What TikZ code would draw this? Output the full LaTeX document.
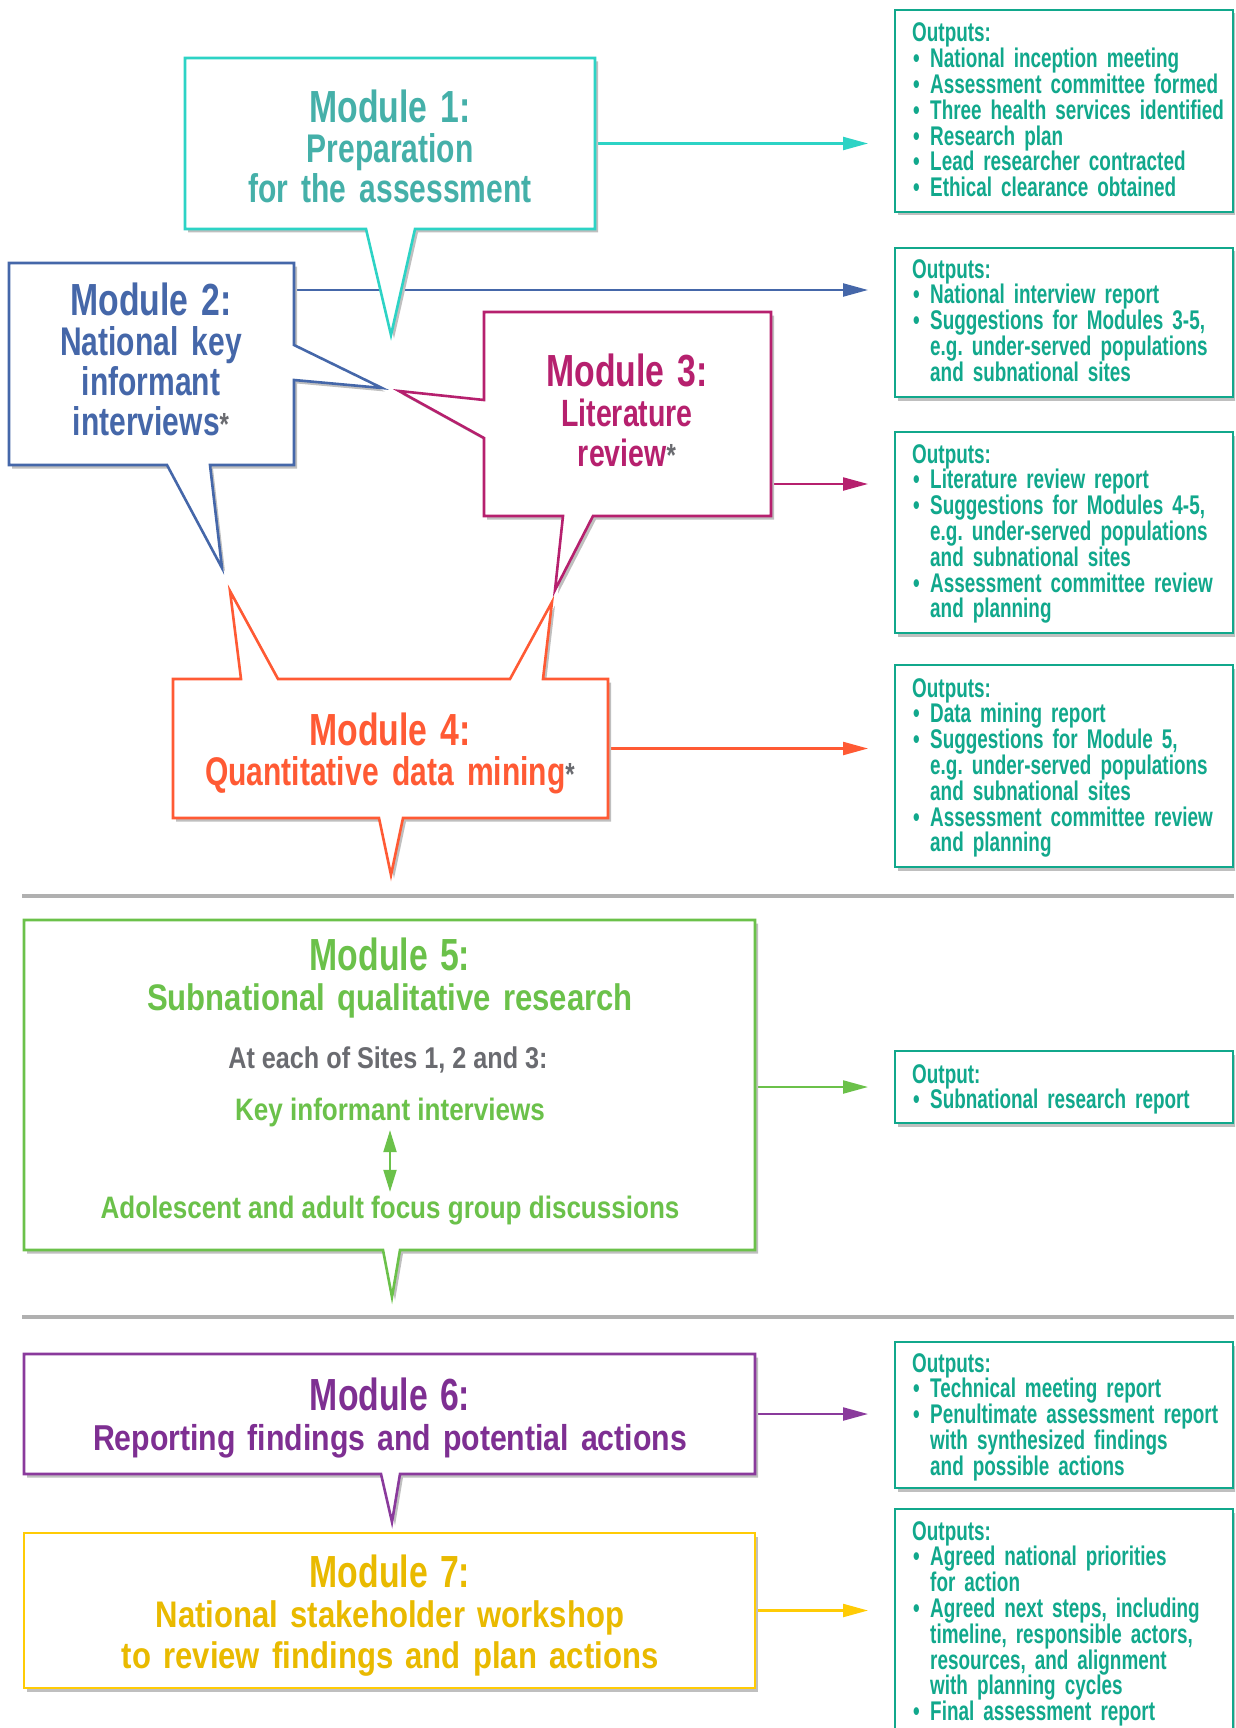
\documentclass[tikz,border=0pt]{standalone}
\usepackage{fontspec}
\setmainfont{Liberation Sans}
\newfontfamily\headfont[FakeStretch=0.75]{Liberation Sans}
\newfontfamily\subfont[FakeStretch=0.75]{Liberation Sans}
\newfontfamily\widefont[FakeStretch=0.84]{Liberation Sans}
\newfontfamily\outfont[FakeStretch=0.70]{Liberation Sans}
\usetikzlibrary{arrows.meta,shadows}

\definecolor{modone}{HTML}{2DD3C5}
\definecolor{modonetext}{HTML}{45B0A9}
\definecolor{modtwo}{HTML}{4567A9}
\definecolor{modthree}{HTML}{B6206E}
\definecolor{modfour}{HTML}{FF5A34}
\definecolor{modfive}{HTML}{6BC14A}
\definecolor{modsix}{HTML}{8A3A9C}
\definecolor{modsixtext}{HTML}{7E2F92}
\definecolor{modseven}{HTML}{FFCB05}
\definecolor{modseventext}{HTML}{E9BA00}
\definecolor{outgreen}{HTML}{11A88C}
\definecolor{sitegray}{HTML}{6A6B70}
\definecolor{rulegray}{HTML}{B0B0B0}

\newcommand\modhead[1]{{\headfont\fontsize{45}{40}\selectfont #1}}
\newcommand\graystar{{\color{sitegray}\fontsize{32}{32}\selectfont *}}
\newcommand\obul{\makebox[18pt][l]{\hspace{1pt}\textbullet}}
\newcommand\ocont{\hspace*{18pt}}

\begin{document}
\begin{tikzpicture}[x=1pt,y=-1pt,
	modbox/.style={draw=none,inner sep=0pt,outer sep=0pt},
	callout/.style={draw=#1,fill=white,line width=2.6pt,line join=miter,
		drop shadow={shadow xshift=3pt,shadow yshift=-3.5pt,fill=black!25,opacity=1}},
	outbox/.style={draw=outgreen,fill=white,line width=2.6pt,minimum width=338pt,inner sep=0pt,outer sep=0pt,
		drop shadow={shadow xshift=3pt,shadow yshift=-3.5pt,fill=black!25,opacity=1}},
	outtext/.style={text=outgreen,anchor=base west,text width=330pt,align=left,inner sep=0pt,
		font=\outfont\bfseries\fontsize{27}{25.8}\selectfont\frenchspacing},
	modtext/.style={text=#1,anchor=base,text width=720pt,align=center,inner sep=0pt,
		font=\subfont\bfseries\fontsize{40}{40}\selectfont},
	sitetext/.style={text=sitegray,anchor=base,inner sep=3.5pt,font=\widefont\bfseries\fontsize{30}{30}\selectfont},
	steptext/.style={text=modfive,anchor=base,inner sep=3.5pt,font=\widefont\bfseries\fontsize{31}{31}\selectfont},
	outarrow/.style={draw=#1,line width=2.2pt,shorten >=27pt,-{Triangle[length=25pt,width=13pt]}},
	dblarrow/.style={draw=modfive,line width=2pt,{Triangle[length=22pt,width=13pt]}-{Triangle[length=22pt,width=13pt]}},
	rule/.style={draw=rulegray,line width=4pt}]
	\clip (0,0) rectangle (1235,1728);

	\node[modbox,minimum width=410pt,minimum height=171pt] (m1) at (390,143.5) {};
	\node[modbox,minimum width=285pt,minimum height=202pt] (m2) at (151.5,364) {};
	\node[modbox,minimum width=287pt,minimum height=204pt] (m3) at (627.5,414) {};
	\node[modbox,minimum width=435pt,minimum height=139pt] (m4) at (390.5,748.5) {};
	\node[modbox,minimum width=731pt,minimum height=330pt] (m5) at (389.5,1085) {};
	\node[modbox,minimum width=731pt,minimum height=120pt] (m6) at (389.5,1414) {};
	\node[modbox,minimum width=731pt,minimum height=155pt] (m7) at (389.5,1610.5) {};

	\node[outbox,minimum height=202pt] (o1) at (1064,111) {};
	\node[outbox,minimum height=149pt] (o2) at (1064,322.5) {};
	\node[outbox,minimum height=201pt] (o3) at (1064,532.5) {};
	\node[outbox,minimum height=202pt] (o4) at (1064,766) {};
	\node[outbox,minimum height=72pt] (o5) at (1064,1087) {};
	\node[outbox,minimum height=146pt] (o6) at (1064,1415) {};
	\node[outbox,minimum height=251pt] (o7) at (1064,1634.5) {};

	\coordinate (a2) at (0,290);
	\coordinate (a3) at (0,484);
	\coordinate (a5) at (0,1087);
	\path (m1.east) edge[outarrow=modone] (o1.west |- m1.east)
		(m2.east |- a2) edge[outarrow=modtwo] (o2.west |- a2)
		(m3.east |- a3) edge[outarrow=modthree] (o3.west |- a3)
		(m4.east) edge[outarrow=modfour] (o4.west |- m4.east)
		(m5.east |- a5) edge[outarrow=modfive] (o5.west |- a5)
		(m6.east) edge[outarrow=modsix] (o6.west |- m6.east)
		(m7.east) edge[outarrow=modseven] (o7.west |- m7.east);

	\coordinate (r1a) at (22,896);
	\coordinate (r1b) at (1234,896);
	\coordinate (r2a) at (22,1317);
	\coordinate (r2b) at (1234,1317);
	\draw[rule] (r1a) -- (r1b);
	\draw[rule] (r2a) -- (r2b);

	\draw[callout=modone] (m1.north west) -- (m1.north east) -- (m1.south east)
		-- (415,229) -- (391,335) -- (366,229) -- (m1.south west) -- cycle;
	\draw[callout=modtwo] (m2.north west) -- (m2.north east) -- (294,345) -- (382,388) -- (294,380)
		-- (m2.south east) -- (210,465) -- (222,568) -- (167,465) -- (m2.south west) -- cycle;
	\draw[callout=modthree] (m3.north west) -- (m3.north east) -- (m3.south east)
		-- (593,516) -- (555,590) -- (563,516) -- (m3.south west)
		-- (484,438) -- (399,391) -- (484,400) -- cycle;
	\draw[callout=modfour] (m4.north west) -- (241,679) -- (230,591) -- (278,679)
		-- (510,679) -- (552,602) -- (543,679) -- (m4.north east) -- (m4.south east)
		-- (403,818) -- (391,875) -- (379,818) -- (m4.south west) -- cycle;
	\draw[callout=modfive] (m5.north west) -- (m5.north east) -- (m5.south east)
		-- (400,1250) -- (392,1297) -- (383,1250) -- (m5.south west) -- cycle;
	\draw[callout=modsix] (m6.north west) -- (m6.north east) -- (m6.south east)
		-- (400,1474) -- (392,1522) -- (381,1474) -- (m6.south west) -- cycle;
	\draw[callout=modseven] (m7.north west) -- (m7.north east) -- (m7.south east) -- (m7.south west) -- cycle;

	\node[modtext=modonetext] (m1t) at (390,123) {\modhead{Module 1:}\\Preparation\\for the assessment};
	\node[modtext=modtwo] (m2t) at (151,315) {\modhead{Module 2:}\\National key\\informant\\interviews\graystar};
	\node[modtext=modthree,font=\subfont\bfseries\fontsize{38}{40}\selectfont] (m3t) at (627,386) {\modhead{Module 3:}\\Literature\\review\graystar};
	\node[modtext=modfour] (m4t) at (390,745) {\modhead{Module 4:}\\Quantitative data mining\graystar};
	\node[modtext=modfive,font=\widefont\bfseries\fontsize{37}{40}\selectfont] (m5t) at (390,970) {\modhead{Module 5:}\\Subnational qualitative research};
	\node[sitetext] (m5s) at (388,1068) {At each of Sites 1, 2 and 3:};
	\node[steptext] (m5k) at (390,1120) {Key informant interviews};
	\node[steptext] (m5f) at (390,1218) {Adolescent and adult focus group discussions};
	\draw[dblarrow] (m5k) -- (m5f);
	\node[modtext=modsixtext,font=\widefont\bfseries\fontsize{36}{40}\selectfont] (m6t) at (390,1410) {\modhead{Module 6:}\\Reporting findings and potential actions};
	\node[modtext=modseventext,font=\widefont\bfseries\fontsize{37}{40.5}\selectfont] (m7t) at (390,1587) {\modhead{Module 7:}\\National stakeholder workshop\\to review findings and plan actions};

	\node[outtext] (o1t) at (912,42) {Outputs:\\
		\obul National inception meeting\\
		\obul Assessment committee formed\\
		\obul Three health services identified\\
		\obul Research plan\\
		\obul Lead researcher contracted\\
		\obul Ethical clearance obtained};
	\node[outtext] (o2t) at (912,278) {Outputs:\\
		\obul National interview report\\
		\obul Suggestions for Modules 3-5,\\
		\ocont e.g. under-served populations\\
		\ocont and subnational sites};
	\node[outtext] (o3t) at (912,463) {Outputs:\\
		\obul Literature review report\\
		\obul Suggestions for Modules 4-5,\\
		\ocont e.g. under-served populations\\
		\ocont and subnational sites\\
		\obul Assessment committee review\\
		\ocont and planning};
	\node[outtext] (o4t) at (912,697) {Outputs:\\
		\obul Data mining report\\
		\obul Suggestions for Module 5,\\
		\ocont e.g. under-served populations\\
		\ocont and subnational sites\\
		\obul Assessment committee review\\
		\ocont and planning};
	\node[outtext] (o5t) at (912,1083) {Output:\\
		\obul Subnational research report};
	\node[outtext] (o6t) at (912,1372) {Outputs:\\
		\obul Technical meeting report\\
		\obul Penultimate assessment report\\
		\ocont with synthesized findings\\
		\ocont and possible actions};
	\node[outtext] (o7t) at (912,1540) {Outputs:\\
		\obul Agreed national priorities\\
		\ocont for action\\
		\obul Agreed next steps, including\\
		\ocont timeline, responsible actors,\\
		\ocont resources, and alignment\\
		\ocont with planning cycles\\
		\obul Final assessment report};
\end{tikzpicture}
\end{document}
